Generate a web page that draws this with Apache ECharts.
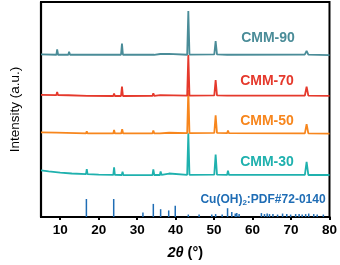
<!DOCTYPE html>
<html><head><meta charset="utf-8">
<script src="https://cdn.jsdelivr.net/npm/echarts@6/dist/echarts.min.js"></script>
<style>html,body{margin:0;padding:0;background:#fff}#c{width:340px;height:265px}</style>
</head><body><div id="c"></div>
<script>
// x ticks
const xTicks = [10, 20, 30, 40, 50, 60, 70, 80];
// series: [2theta, stacked intensity (a.u.)]
const cmm90 = [[5,166.5],[9.0,166],[9.2,171.5],[9.45,166],[12.1,166],[12.3,169],[12.55,166],[25.8,166],[26.05,177.5],[26.3,166],[34.4,166],[34.6,167.5],[34.9,166],[36.0,166.8],[36.3,166],[38.2,167],[38.5,166],[43.0,166],[43.3,210.7],[43.6,166.2],[50.05,166.5],[50.4,180],[50.75,166.5],[53.4,166],[53.6,167.8],[53.85,166],[73.6,166.3],[74.05,170],[74.5,166.2],[80,165.7]];
const cmm70 = [[5,125],[9.0,124.8],[9.2,128],[9.45,124.7],[12.1,124.6],[12.3,126.5],[12.55,124.4],[17,123.9],[23.8,123.8],[24.0,126.3],[24.2,123.8],[25.8,123.8],[26.05,133.4],[26.3,123.8],[34.0,124],[34.2,126.5],[34.45,124],[36.0,124.8],[36.2,124],[43.0,124.2],[43.3,165.7],[43.6,124.3],[50.05,124.5],[50.4,140],[50.75,124.5],[53.4,124.3],[53.6,126],[53.85,124.3],[73.6,124.3],[74.05,133.4],[74.5,124.2],[80,124]];
const cmm50 = [[5,86.6],[9.0,86.3],[9.2,87.6],[9.45,86.2],[16.7,85.6],[16.9,87.8],[17.1,85.5],[23.8,85.5],[24.0,89],[24.2,85.5],[25.85,85.5],[26.1,89.8],[26.35,85.5],[34.0,85.6],[34.2,88.4],[34.45,85.6],[35.9,85.6],[36.1,87],[36.35,85.6],[38.3,86.2],[38.5,85.6],[43.0,85.8],[43.3,130],[43.6,85.8],[50.05,86],[50.4,104],[50.75,86],[53.4,85.8],[53.6,88.4],[53.85,85.8],[73.6,85.6],[74.05,95],[74.5,85.5],[80,85.3]];
const cmm30 = [[5,47.6],[7,46.6],[10,45.4],[13,44.5],[16.7,43.9],[16.9,49],[17.1,43.8],[20,43.3],[23.8,43.1],[24.0,50.7],[24.2,43.1],[26.0,43],[26.2,46.4],[26.4,43],[30,42.9],[34.0,43],[34.2,48.7],[34.45,43],[35.9,43],[36.1,46.7],[36.35,43],[38.3,44.5],[38.5,43],[43.0,43.2],[43.3,85.7],[43.6,43.2],[50.05,43.4],[50.4,64],[50.75,43.4],[53.4,43.2],[53.6,47.4],[53.85,43.2],[73.6,43.1],[74.05,56.4],[74.5,43],[80,43]];
const pdf = [[16.8,18.4],[23.9,18.4],[31.5,4.7],[34.2,13.4],[36.1,8],[38.2,6.7],[39.9,11.4],[43.3,2.5],[46.1,2.5],[49.4,2.5],[50.4,3],[52.1,2.5],[53.5,9],[54.6,5],[55.5,3.5],[55.9,4],[56.5,3],[62.3,4],[63.1,3],[63.8,3.5],[64.4,3],[65.3,3],[66.5,2.5],[67.8,3.5],[68.9,3],[69.9,2.5],[71.2,3],[72.1,3],[72.9,2.5],[73.8,3],[74.6,3.5],[75.9,3],[76.8,2.5],[78.4,2.5]];
const names = ['CMM-90','CMM-70','CMM-50','CMM-30'];
const pdfName = 'Cu(OH){s|2}:PDF#72-0140';

const colors = ['#4a8c98','#e5392c','#f7861d','#1fb1ae'];
const blue = '#1f6db5';
const FF = '"Liberation Sans", Arial, sans-serif';

const chart = echarts.init(document.getElementById('c'), null, {renderer:'canvas'});
const lineSeries = [cmm90, cmm70, cmm50, cmm30].map((d, i) => ({
  type:'line', name:names[i], data:d, showSymbol:false, symbol:'none',
  lineStyle:{color:colors[i], width:1.8}, z: 3 + (3 - i), animation:false
}));
const labelPos = [[268,38],[267,81],[267,121],[267,162]];
chart.setOption({
  backgroundColor:'#fff',
  animation:false,
  grid:{left:35, right:10.5, top:2, bottom:44.3, show:true, borderColor:'#000', borderWidth:2, backgroundColor:'transparent'},
  xAxis:{type:'value', min:5, max:80,
    axisLine:{show:true, lineStyle:{color:'#000', width:2.2}},
    axisTick:{show:true, inside:false, length:3, lineStyle:{color:'#000', width:2}, customValues:xTicks},
    axisLabel:{color:'#000', fontFamily:FF, fontWeight:'bold', fontSize:13.5, margin:6, customValues:xTicks},
    splitLine:{show:false},
    name:'{i|2θ} (°)', nameLocation:'middle', nameGap:28,
    nameTextStyle:{color:'#000', fontFamily:FF, fontWeight:'bold', fontSize:14.5,
      rich:{i:{fontStyle:'italic', fontWeight:'bold', fontFamily:FF, fontSize:14.5, color:'#000'}}}
  },
  yAxis:{type:'value', min:0, max:220,
    axisLine:{show:true, lineStyle:{color:'#000', width:2.2}},
    axisTick:{show:false}, axisLabel:{show:false}, splitLine:{show:false},
    name:'Intensity (a.u.)', nameLocation:'middle', nameGap:19,
    nameTextStyle:{color:'#000', fontFamily:FF, fontSize:13.5}
  },
  graphic: names.map((n, i) => ({
    type:'text', x:labelPos[i][0], y:labelPos[i][1],
    style:{text:n, fill:colors[i], font:'bold 14px '+FF, textAlign:'center', textVerticalAlign:'middle'}, z:10
  })).concat([{
    type:'text', x:263, y:200,
    style:{text:pdfName, fill:blue, font:'bold 12px '+FF, align:'center', verticalAlign:'middle',
      rich:{s:{fontSize:8, fontWeight:'bold', fontFamily:FF, fill:blue, padding:[6,0,0,0]}}}, z:10
  }]),
  series: lineSeries.concat([{
    type:'bar', name:'PDF', data:pdf, barWidth:1.5, itemStyle:{color:blue}, animation:false
  }])
});
</script></body></html>
